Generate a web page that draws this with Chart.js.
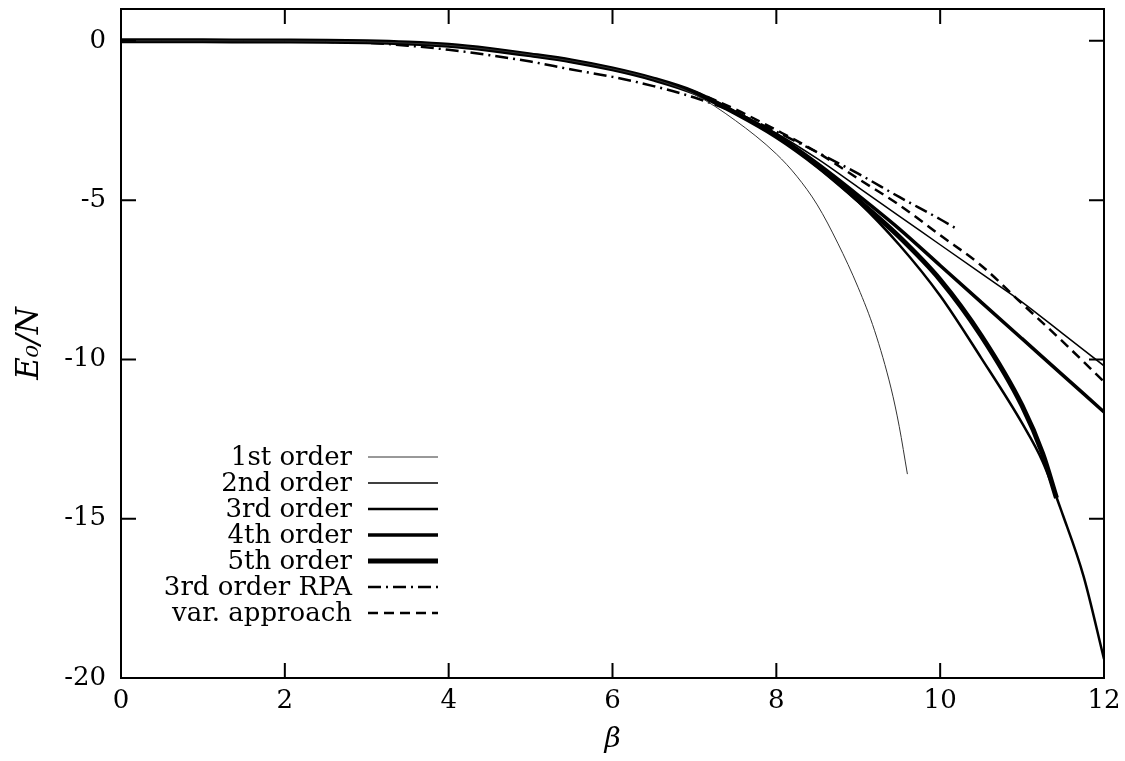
<!DOCTYPE html>
<html>
<head>
<meta charset="utf-8">
<script src="https://cdn.jsdelivr.net/npm/chart.js@4/dist/chart.umd.min.js"></script>
<style>
  html, body { margin: 0; padding: 0; background: #fff; }
</style>
</head>
<body>
<canvas id="graph" width="1125" height="761"></canvas>
<script>
// tick positions
const xTicks = [0, 2, 4, 6, 8, 10, 12];
const yTicks = [0, -5, -10, -15, -20];

// low-beta part, all expansions sit on top of each other here
const betaLow = [0, 0.5, 1, 1.5, 2, 2.5, 3, 3.5, 4, 4.5, 5, 5.5, 6, 6.5];
const eLow    = [0, 0, 0, -0.002, -0.005, -0.012, -0.03, -0.07, -0.14, -0.27, -0.44, -0.63, -0.88, -1.2];

const beta1 = [7, 7.5, 8, 8.25, 8.5, 8.75, 9, 9.2, 9.4, 9.5, 9.6];
const e1    = [-1.68, -2.5, -3.55, -4.25, -5.15, -6.35, -7.75, -9.1, -10.9, -12.1, -13.6];

const beta2 = [7, 7.5, 8, 8.5, 9, 9.5, 10, 10.5, 11, 11.5, 12];
const e2    = [-1.62, -2.22, -2.9, -3.7, -4.6, -5.5, -6.4, -7.3, -8.2, -9.2, -10.2];

const beta3 = [7, 7.5, 8, 8.5, 9, 9.5, 10, 10.5, 11, 11.25, 11.5, 11.75, 12];
const e3    = [-1.62, -2.27, -3.0, -3.95, -5.05, -6.4, -8.0, -9.95, -12.0, -13.2, -14.9, -16.8, -19.4];

const beta4 = [7, 7.5, 8, 8.5, 9, 9.5, 10, 10.5, 11, 11.5, 12];
const e4    = [-1.62, -2.25, -2.95, -3.85, -4.85, -5.9, -7.05, -8.2, -9.35, -10.5, -11.65];

const beta5 = [7, 7.5, 8, 8.5, 9, 9.5, 10, 10.5, 11, 11.25, 11.42];
const e5    = [-1.62, -2.26, -3.0, -3.92, -5.0, -6.15, -7.5, -9.25, -11.45, -12.95, -14.35];

const betaRpa = [0, 0.5, 1, 1.5, 2, 2.5, 3, 3.5, 4, 4.5, 5, 5.5, 6, 6.5, 7, 7.5, 8, 8.5, 9, 9.5, 10, 10.2];
const eRpa    = [0, 0, -0.003, -0.008, -0.015, -0.03, -0.06, -0.15, -0.28, -0.45, -0.65, -0.9, -1.13, -1.42, -1.78, -2.25, -2.85, -3.5, -4.17, -4.9, -5.6, -5.9];

const betaVar = [7, 7.5, 8, 8.5, 9, 9.5, 10, 10.5, 11, 11.5, 12];
const eVar    = [-1.6, -2.15, -2.8, -3.5, -4.33, -5.15, -6.1, -7.05, -8.25, -9.45, -10.7];

const labels = ['1st order', '2nd order', '3rd order', '4th order', '5th order', '3rd order RPA', 'var. approach'];

function pts(xs, ys) {
  return xs.map((x, i) => ({ x: x, y: ys[i] }));
}

const FONT = '"DejaVu Serif", serif';

function series(label, data, width, color, dash) {
  return {
    label: label,
    data: data,
    borderColor: color,
    borderWidth: width,
    borderDash: dash || [],
    pointRadius: 0,
    fill: false,
    cubicInterpolationMode: 'monotone'
  };
}

// frame with inward ticks on all four sides (gnuplot look)
const frame = {
  id: 'frame',
  afterDatasetsDraw(chart) {
    const { ctx, chartArea: a, scales: { x, y } } = chart;
    const tl = 15;
    ctx.save();
    ctx.strokeStyle = '#000';
    ctx.lineWidth = 2;
    ctx.beginPath();
    xTicks.forEach(v => {
      const px = x.getPixelForValue(v);
      ctx.moveTo(px, a.bottom); ctx.lineTo(px, a.bottom - tl);
      ctx.moveTo(px, a.top); ctx.lineTo(px, a.top + tl);
    });
    yTicks.forEach(v => {
      const py = y.getPixelForValue(v);
      ctx.moveTo(a.left, py); ctx.lineTo(a.left + tl, py);
      ctx.moveTo(a.right, py); ctx.lineTo(a.right - tl, py);
    });
    ctx.stroke();
    ctx.strokeRect(a.left, a.top, a.right - a.left, a.bottom - a.top);
    ctx.restore();
  }
};

// key in the lower left, text right aligned, sample line after it
const key = {
  id: 'key',
  afterDraw(chart) {
    const ctx = chart.ctx;
    const textRight = 352, x0 = 368, x1 = 438, top = 457, step = 26;
    ctx.save();
    ctx.font = '26px ' + FONT;
    ctx.textAlign = 'right';
    ctx.textBaseline = 'middle';
    ctx.fillStyle = '#000';
    chart.data.datasets.forEach((ds, i) => {
      const yy = top + i * step;
      ctx.fillText(ds.label, textRight, yy + 1);
      ctx.beginPath();
      ctx.strokeStyle = ds.borderColor;
      ctx.lineWidth = ds.borderWidth;
      ctx.setLineDash(ds.borderDash);
      ctx.moveTo(x0, yy);
      ctx.lineTo(x1, yy);
      ctx.stroke();
    });
    ctx.restore();
  }
};

new Chart(document.getElementById('graph'), {
  type: 'line',
  data: {
    datasets: [
      series(labels[0], pts(betaLow.concat(beta1), eLow.concat(e1)), 1, '#333'),
      series(labels[1], pts(betaLow.concat(beta2), eLow.concat(e2)), 1.5, '#000'),
      series(labels[2], pts(betaLow.concat(beta3), eLow.concat(e3)), 2.5, '#000'),
      series(labels[3], pts(betaLow.concat(beta4), eLow.concat(e4)), 3.5, '#000'),
      series(labels[4], pts(betaLow.concat(beta5), eLow.concat(e5)), 5, '#000'),
      series(labels[5], pts(betaRpa, eRpa), 2.5, '#000', [13, 5, 2, 5]),
      series(labels[6], pts(betaLow.concat(betaVar), eLow.concat(eVar)), 2.5, '#000', [10, 6])
    ]
  },
  options: {
    responsive: false,
    devicePixelRatio: 1,
    animation: false,
    layout: { padding: { left: 0, right: 21, top: 9, bottom: 0 } },
    plugins: { legend: { display: false }, tooltip: { enabled: false } },
    scales: {
      x: {
        type: 'linear',
        min: 0, max: 12,
        afterBuildTicks: s => { s.ticks = xTicks.map(v => ({ value: v })); },
        afterFit: s => { s.height = 83; s.paddingLeft = 0; s.paddingRight = 0; },
        grid: { display: false, drawTicks: false },
        border: { display: false },
        ticks: { color: '#000', font: { family: FONT, size: 26 }, padding: 8, maxRotation: 0,
                 callback: v => String(v) },
        title: { display: true, text: 'β', color: '#000',
                 font: { family: FONT, size: 28, style: 'italic' }, padding: { top: 0, bottom: 4 } }
      },
      y: {
        type: 'linear',
        min: -20, max: 1,
        afterBuildTicks: s => { s.ticks = yTicks.map(v => ({ value: v })); },
        afterFit: s => { s.width = 121; s.paddingTop = 0; s.paddingBottom = 0; },
        grid: { display: false, drawTicks: false },
        border: { display: false },
        ticks: { color: '#000', font: { family: FONT, size: 26 }, padding: 15,
                 callback: v => String(v) },
        title: { display: true, text: 'E₀/N', color: '#000',
                 font: { family: FONT, size: 31, style: 'italic' }, padding: { top: 11, bottom: 0 } }
      }
    }
  },
  plugins: [frame, key]
});
</script>
</body>
</html>
